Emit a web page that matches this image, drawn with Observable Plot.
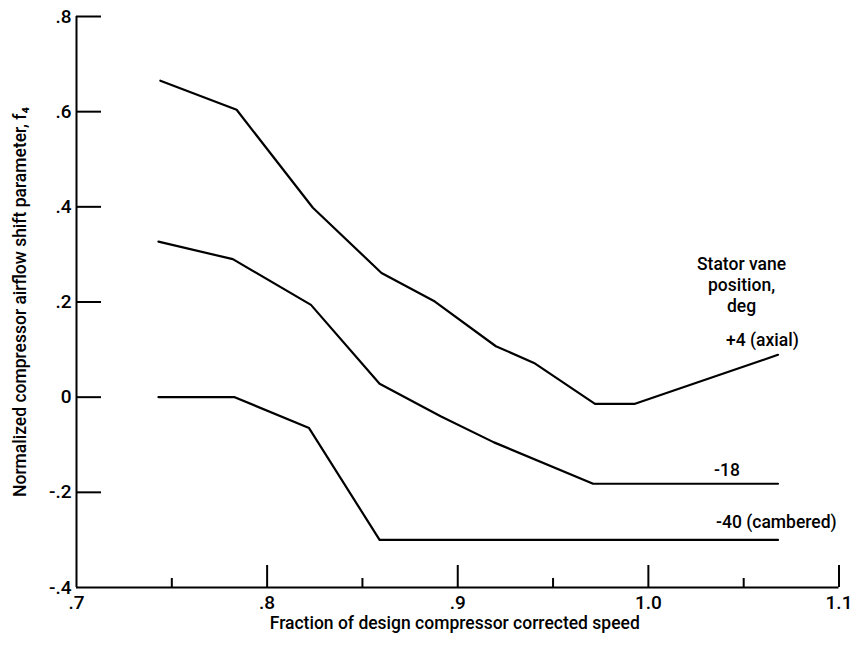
<!DOCTYPE html>
<html>
<head>
<meta charset="utf-8">
<script src="https://cdn.jsdelivr.net/npm/d3@7"></script>
<script src="https://cdn.jsdelivr.net/npm/@observablehq/plot@0.6"></script>
<style>
  body { margin: 0; background: #fff; }
  #chart svg { display: block; }
</style>
</head>
<body>
<div id="chart"></div>
<script>
// Stator vane positions, deg
const vaneLabels = ["+4 (axial)", "-18", "-40 (cambered)"];

// +4 deg (axial)
const axialSpeed = [0.744, 0.784, 0.824, 0.860, 0.888, 0.920, 0.940, 0.972, 0.993, 1.068];
const axialShift = [0.665, 0.604, 0.398, 0.261, 0.201, 0.107, 0.072, -0.014, -0.014, 0.089];

// -18 deg
const midSpeed = [0.743, 0.782, 0.823, 0.859, 0.891, 0.919, 0.971, 1.068];
const midShift = [0.327, 0.290, 0.194, 0.028, -0.040, -0.095, -0.182, -0.182];

// -40 deg (cambered)
const camberedSpeed = [0.743, 0.783, 0.822, 0.859, 1.068];
const camberedShift = [0.0, 0.0, -0.065, -0.300, -0.300];

// Axis ticks and their printed labels
const xTickValues = [0.7, 0.8, 0.9, 1.0, 1.1];
const xTickLabels = [".7", ".8", ".9", "1.0", "1.1"];
const xMinorTicks = [0.75, 0.85, 0.95, 1.05];
const yTickValues = [-0.4, -0.2, 0, 0.2, 0.4, 0.6, 0.8];
const yTickLabels = ["-.4", "-.2", "0", ".2", ".4", ".6", ".8"];

const xTitle = "Fraction of design compressor corrected speed";
const yTitle = "Normalized compressor airflow shift parameter, f\u2084";
const legendTitle = "Stator vane\nposition,\ndeg";

// Long-format table for the line mark
const seriesSpeeds = [axialSpeed, midSpeed, camberedSpeed];
const seriesShifts = [axialShift, midShift, camberedShift];
const rows = vaneLabels.flatMap((name, s) =>
  seriesSpeeds[s].map((x, i) => ({series: name, speed: x, shift: seriesShifts[s][i]}))
);
const endRows = vaneLabels.map((name, s) => ({
  series: name,
  speed: seriesSpeeds[s][seriesSpeeds[s].length - 1],
  shift: seriesShifts[s][seriesShifts[s].length - 1]
}));

// Layout
const W = 862, H = 646;
const mLeft = 76, mRight = 23.5, mTop = 16, mBottom = 59;
const innerW = W - mLeft - mRight;
const innerH = H - mTop - mBottom;
const font = "Roboto, 'DejaVu Sans', sans-serif";
const textSize = 17.5;
const tickSize = 19;

// Label offsets (px) from each curve's right-hand end
const labelOffsets = [
  {dx: -52, dy: -14},
  {dx: -64, dy: -13},
  {dx: -62, dy: -18}
];

const chart = Plot.plot({
  width: W,
  height: H,
  marginLeft: mLeft,
  marginRight: mRight,
  marginTop: mTop,
  marginBottom: mBottom,
  style: {fontFamily: font, color: "#000", background: "#fff", fontWeight: 500},
  x: {domain: [0.7, 1.1]},
  y: {domain: [-0.4, 0.8]},
  marks: [
    // tick labels only; tick marks are drawn inward below
    Plot.axisX(xTickValues, {
      tickSize: 0, tickPadding: 8, fontSize: tickSize, label: null,
      tickFormat: d => xTickLabels[xTickValues.indexOf(d)]
    }),
    Plot.axisY(yTickValues, {
      tickSize: 0, tickPadding: 5, fontSize: tickSize, label: null,
      tickFormat: d => yTickLabels[yTickValues.indexOf(d)]
    }),
    // inward ticks
    Plot.tickX(xTickValues.slice(1), {x: d => d, insetTop: innerH - 22, strokeWidth: 2}),
    Plot.tickX(xMinorTicks, {x: d => d, insetTop: innerH - 9, strokeWidth: 2}),
    Plot.tickY(yTickValues.slice(1), {y: d => d, insetRight: innerW - 25, strokeWidth: 2}),
    // axis lines
    Plot.ruleX([0.7], {strokeWidth: 2}),
    Plot.ruleY([-0.4], {strokeWidth: 2}),
    // curves
    Plot.line(rows, {x: "speed", y: "shift", z: "series", stroke: "#000", strokeWidth: 2.2, strokeLinejoin: "round"}),
    // curve labels
    ...endRows.map((r, s) => Plot.text([r], {
      x: "speed", y: "shift", text: "series", textAnchor: "start",
      dx: labelOffsets[s].dx, dy: labelOffsets[s].dy, fontSize: textSize, fill: "#000"
    })),
    Plot.text([legendTitle], {
      frameAnchor: "top-left", dx: 665, dy: 239, lineAnchor: "top",
      textAnchor: "middle", lineHeight: 1.2, fontSize: textSize, fill: "#000"
    }),
    // axis titles
    Plot.text([xTitle], {frameAnchor: "bottom", dx: -3, dy: 41, fontSize: textSize, fill: "#000"}),
    Plot.text([yTitle], {
      frameAnchor: "left", textAnchor: "middle", rotate: -90, dx: -56,
      fontSize: textSize, fill: "#000"
    })
  ]
});

document.getElementById("chart").appendChild(chart);
</script>
</body>
</html>
